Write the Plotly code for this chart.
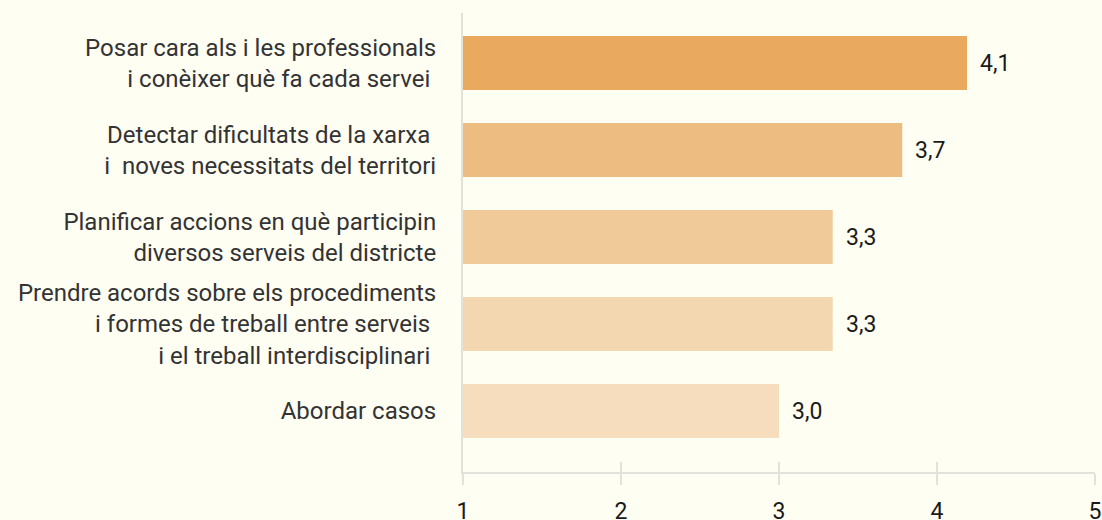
import plotly.graph_objects as go

categories = [
    "Posar cara als i les professionals<br>i conèixer què fa cada servei\u00a0",
    "Detectar dificultats de la xarxa\u00a0<br>i\u00a0\u00a0noves necessitats del territori",
    "Planificar accions en què participin<br>diversos serveis del districte",
    "Prendre acords sobre els procediments<br>i formes de treball entre serveis\u00a0<br>i el treball interdisciplinari\u00a0",
    "Abordar casos",
]
values = [4.19, 3.78, 3.34, 3.34, 3.0]
value_labels = ["4,1", "3,7", "3,3", "3,3", "3,0"]
colors = ["#E9A95E", "#EDBC80", "#F0CA99", "#F3D7B1", "#F5DDBD"]
x_ticks = [1, 2, 3, 4, 5]

BG = "#FFFEF3"
AXIS = "#E2E1DB"

fig = go.Figure()
fig.add_trace(go.Bar(
    y=categories, x=[v - 1 for v in values], base=1,
    orientation="h", marker=dict(color=colors, line=dict(width=0)),
    hoverinfo="skip", showlegend=False,
))

for c, v, t in zip(categories, values, value_labels):
    fig.add_annotation(x=v, y=c, text=t, showarrow=False, xanchor="left",
                       xshift=11, font=dict(family="Roboto", size=23, color="#1A1A1A"))

fig.update_layout(
    width=1102, height=520,
    margin=dict(l=463, r=7, t=13, b=48, autoexpand=False),
    paper_bgcolor=BG, plot_bgcolor=BG,
    bargap=0.38,
    xaxis=dict(range=[1, 5], tickvals=x_ticks, ticktext=[str(t) for t in x_ticks],
               showgrid=False, zeroline=False, showline=True, linecolor=AXIS, linewidth=2,
               ticks="outside", ticklen=11, tickcolor=AXIS, tickwidth=2,
               tickfont=dict(family="Roboto", size=23, color="#1A1A1A"),
               ticklabelstandoff=6, ticklabeloverflow="allow", automargin=False),
    xaxis2=dict(range=[1, 5], tickvals=x_ticks, overlaying="x", matches="x",
                showgrid=False, zeroline=False, showline=False, showticklabels=False,
                ticks="inside", ticklen=10, tickcolor=AXIS, tickwidth=2, side="bottom",
                automargin=False),
    yaxis=dict(type="category", range=[4.70, -0.575], showgrid=False, zeroline=False,
               showline=True, linecolor=AXIS, linewidth=2, ticks="",
               tickfont=dict(family="Roboto", size=24, color="#333333"),
               ticklabelstandoff=20, automargin=False),
    font=dict(family="Roboto"),
)
fig.add_trace(go.Scatter(x=[None], y=[None], xaxis="x2", showlegend=False, hoverinfo="skip"))

fig.write_html("out.html", config={"displayModeBar": False},
               post_script="document.body.style.margin='0';document.body.style.background='%s';" % BG)
